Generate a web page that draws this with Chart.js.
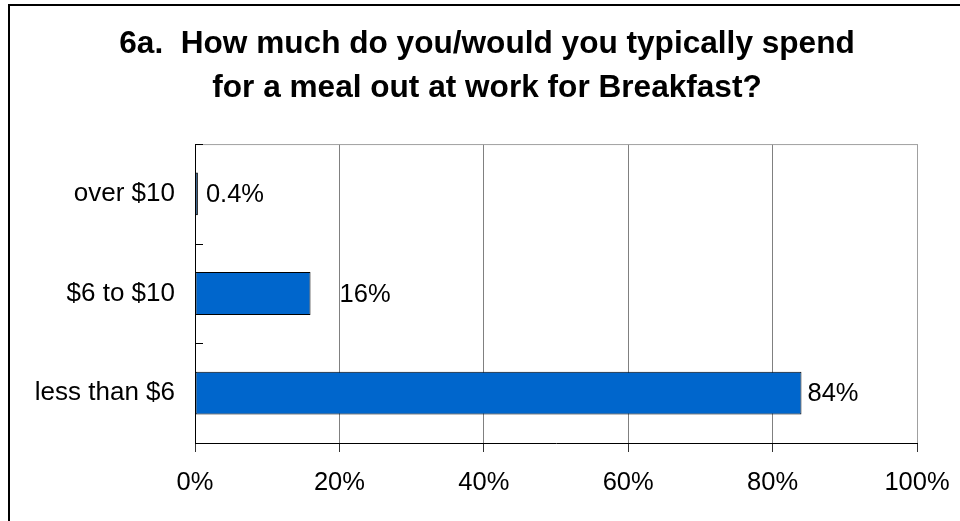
<!DOCTYPE html>
<html>
<head>
<meta charset="utf-8">
<script src="https://cdn.jsdelivr.net/npm/chart.js@4"></script>
<style>
  html, body { margin: 0; padding: 0; background: #fff; overflow: hidden; }
  #frame { position: absolute; left: 8px; top: 4px; width: 1000px; height: 600px; border-left: 2px solid #000; border-top: 2px solid #000; }
  #mealChart { position: absolute; left: 0; top: 0; }
</style>
</head>
<body>
<div id="frame"></div>
<canvas id="mealChart" width="960" height="521"></canvas>
<script>
var categories = ["over $10", "$6 to $10", "less than $6"];
var shares = [0.4, 16, 84];
var xTicks = [0, 20, 40, 60, 80, 100];
var titleLines = [
    "6a.  How much do you/would you typically spend",
    "for a meal out at work for Breakfast?"
];
// space between the end of each bar and its value text
var labelGap = [8, 29, 6];

var fontFamily = "'Liberation Sans', Arial, sans-serif";
Chart.defaults.font.family = fontFamily;
Chart.defaults.color = "#000";

function pct(v) {
    return (v < 1 ? v.toFixed(1) : Math.round(v)) + "%";
}

// top edge of the plot box and the small inward ticks on the category axis
var plotFrame = {
    id: "plotFrame",
    beforeDatasetsDraw: function (chart) {
        var ctx = chart.ctx;
        var area = chart.chartArea;
        var y = chart.scales.y;
        ctx.save();
        ctx.lineWidth = 1;
        ctx.strokeStyle = "#a0a0a0";
        ctx.beginPath();
        ctx.moveTo(area.left, area.top + 0.5);
        ctx.lineTo(area.right, area.top + 0.5);
        ctx.stroke();
        ctx.strokeStyle = "#000";
        ctx.beginPath();
        for (var i = 0; i <= categories.length; i++) {
            var py = Math.round(y.getPixelForValue(i - 0.5)) + 0.5;
            ctx.moveTo(area.left, py);
            ctx.lineTo(area.left + 8, py);
        }
        ctx.stroke();
        ctx.restore();
    },
    afterDatasetsDraw: function (chart) {
        var ctx = chart.ctx;
        var meta = chart.getDatasetMeta(0);
        ctx.save();
        ctx.font = "25.5px " + fontFamily;
        ctx.fillStyle = "#000";
        ctx.textBaseline = "middle";
        ctx.textAlign = "left";
        meta.data.forEach(function (bar, i) {
            ctx.fillText(pct(shares[i]), bar.x + labelGap[i], bar.y + 1);
        });
        ctx.restore();
    }
};

var ctx = document.getElementById("mealChart").getContext("2d");
var mealChart = new Chart(ctx, {
    type: "bar",
    data: {
        labels: categories,
        datasets: [{
            data: shares,
            backgroundColor: "#0066cc",
            borderColor: "#000",
            borderWidth: 1,
            borderSkipped: false,
            barPercentage: 0.43,
            categoryPercentage: 1
        }]
    },
    options: {
        indexAxis: "y",
        responsive: false,
        animation: false,
        devicePixelRatio: 1,
        layout: { padding: { left: 14, right: 0, top: 0, bottom: 0 } },
        plugins: {
            legend: { display: false },
            tooltip: { enabled: false },
            title: {
                display: true,
                text: titleLines,
                color: "#000",
                font: { size: 31.6, weight: "bold", lineHeight: 1.4 },
                padding: { top: 22, bottom: 33.6 }
            }
        },
        scales: {
            x: {
                min: xTicks[0],
                max: xTicks[xTicks.length - 1],
                afterBuildTicks: function (scale) {
                    scale.ticks = xTicks.map(function (v) { return { value: v }; });
                },
                afterFit: function (scale) {
                    scale.height = 78;
                    scale.paddingRight = 43;
                },
                grid: {
                    color: function (c) { return c.tick && c.tick.value === 100 ? "#a0a0a0" : "#808080"; },
                    tickColor: "#333",
                    tickLength: 9
                },
                border: { color: "#000", width: 1 },
                ticks: {
                    padding: 16,
                    font: { size: 25.5 },
                    color: "#000",
                    callback: function (v) { return v + "%"; }
                }
            },
            y: {
                afterFit: function (scale) { scale.width = 181; },
                grid: { display: false, drawTicks: false },
                border: { display: true, color: "#000", width: 1 },
                ticks: {
                    padding: 20,
                    font: { size: 26 },
                    color: "#000"
                }
            }
        }
    },
    plugins: [plotFrame]
});
</script>
</body>
</html>
